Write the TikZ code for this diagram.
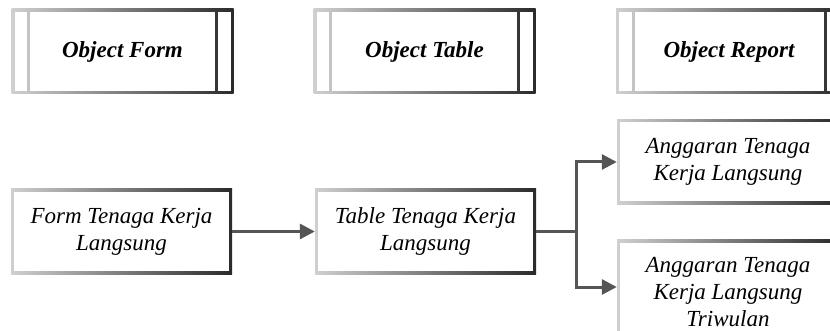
\documentclass[tikz,border=0pt]{standalone}
\usepackage{fontspec}
\setmainfont{Liberation Serif}
\usetikzlibrary{arrows.meta}
\definecolor{edgelight}{HTML}{D0D0D0}
\definecolor{edgedark}{HTML}{2A2A2A}
\definecolor{linecol}{HTML}{555555}
\tikzset{
  gradbox/.style={minimum width=#1, minimum height=85pt, inner sep=0pt,
    left color=edgelight, right color=edgedark, shading angle=90,
    align=center, font=\fontsize{23}{27}\selectfont\itshape,
    path picture={\fill[white] ([shift={(3pt,-3pt)}]path picture bounding box.north west) rectangle ([shift={(-3pt,3pt)}]path picture bounding box.south east);}},
  objbox/.style={minimum width=#1, minimum height=85pt, inner sep=0pt,
    left color=edgelight, right color=edgedark,
    align=center, font=\fontsize{23}{27}\selectfont\bfseries\itshape,
    path picture={
      \fill[white] ([shift={(3pt,-3pt)}]path picture bounding box.north west) rectangle ([shift={(15.5pt,3pt)}]path picture bounding box.south west);
      \fill[white] ([shift={(18.5pt,-3pt)}]path picture bounding box.north west) rectangle ([shift={(-18.5pt,3pt)}]path picture bounding box.south east);
      \fill[white] ([shift={(-15.5pt,-3pt)}]path picture bounding box.north east) rectangle ([shift={(-3pt,3pt)}]path picture bounding box.south east);}},
  conn/.style={draw=linecol, line width=3pt},
  arr/.style={conn, -{Triangle[length=15pt,width=15pt]}}
}
\begin{document}
\begin{tikzpicture}[x=1pt,y=-1pt]
\useasboundingbox (0,0) rectangle (830,331);
\clip (0,0) rectangle (830,331);
\node[objbox=222pt] (of) at (122.5,51.5) {Object Form};
\node[objbox=222pt] (ot) at (424.5,51.5) {Object Table};
\node[objbox=226pt] (orp) at (729,51.5) {Object Report};
\node[gradbox=221pt] (ftk) at (121.5,231.5) {Form Tenaga Kerja\\Langsung};
\node[gradbox=221pt] (ttk) at (425.5,231.5) {Table Tenaga Kerja\\Langsung};
\node[gradbox=222pt] (atk) at (728,162) {Anggaran Tenaga\\Kerja Langsung};
\node[gradbox=222pt, minimum height=104pt] (atw) at (728,292) {Anggaran Tenaga\\Kerja Langsung\\Triwulan};
\coordinate (br) at (576,231.5);
\draw[arr] (ftk.east) -- (ttk.west);
\draw[conn] (ttk.east) -- (br);
\draw[arr] (br) |- (atk.west);
\draw[arr] (br) |- (atw.west |- 0,287);
\end{tikzpicture}
\end{document}
